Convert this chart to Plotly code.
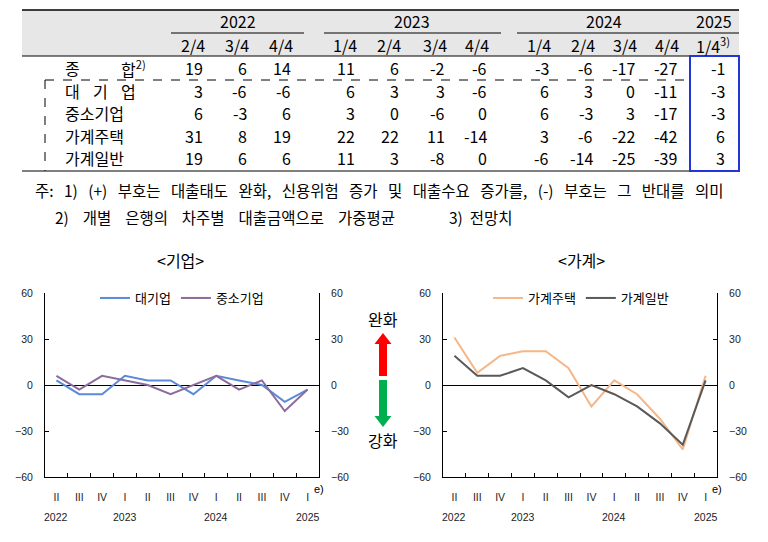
import plotly.graph_objects as go

# the page body keeps its default 8px margin, so the figure is drawn
# 8px in from the top-left corner of the 768x542 window
W, H = 768, 542
OFF = 8
FIG_W, FIG_H = W - OFF, H - OFF

# table data
year_labels = ["2022", "2023", "2024", "2025"]
quarter_labels = ["2/4", "3/4", "4/4", "1/4", "2/4", "3/4", "4/4",
                  "1/4", "2/4", "3/4", "4/4", "1/4<sup>3)</sup>"]
row_labels = ["종합", "대기업", "중소기업", "가계주택", "가계일반"]
total = [19, 6, 14, 11, 6, -2, -6, -3, -6, -17, -27, -1]
large_firms = [3, -6, -6, 6, 3, 3, -6, 6, 3, 0, -11, -3]
small_firms = [6, -3, 6, 3, 0, -6, 0, 6, -3, 3, -17, -3]
household_housing = [31, 8, 19, 22, 22, 11, -14, 3, -6, -22, -42, 6]
household_general = [19, 6, 6, 11, 3, -8, 0, -6, -14, -25, -39, 3]

# chart axis
periods = ["2022Q2", "2022Q3", "2022Q4", "2023Q1", "2023Q2", "2023Q3", "2023Q4",
           "2024Q1", "2024Q2", "2024Q3", "2024Q4", "2025Q1"]
roman_labels = ["II", "III", "IV", "I", "II", "III", "IV", "I", "II", "III", "IV", "I"]
chart_years = {"2022": "2022Q2", "2023": "2023Q1", "2024": "2024Q1", "2025": "2025Q1"}

notes = ["주: 1) (+) 부호는 대출태도 완화, 신용위험 증가 및 대출수요 증가를, (-) 부호는 그 반대를 의미",
         "2) 개별 은행의 차주별 대출금액으로 가중평균",
         "3) 전망치"]

KR = "Noto Sans CJK KR"
NARROW = "Liberation Sans Narrow, Arial Narrow, Liberation Sans"

def px(x):
    return (x - OFF) / FIG_W

def py(y):
    return 1 - (y - OFF) / FIG_H

def P(x, y):
    return f"{px(x):.5f},{py(y):.5f}"

annotations = []
shapes = []

def text(t, x, y, xanchor="center", size=16, color="black", family=KR, **kw):
    annotations.append(dict(text=t, x=px(x), y=py(y), xref="paper", yref="paper",
                            xanchor=xanchor, yanchor="middle", align=xanchor, showarrow=False,
                            font=dict(family=family, size=size, color=color), **kw))

def line(x0, y0, x1, y1, color="black", width=1, dash="solid"):
    shapes.append(dict(type="line", xref="paper", yref="paper",
                       x0=px(x0), y0=py(y0), x1=px(x1), y1=py(y1),
                       line=dict(color=color, width=width, dash=dash)))

def widen(s, n=1):
    # the source uses wide word gaps
    return s.replace(" ", "\u00a0" * n + " ")

# ---- table ----
shapes.append(dict(type="rect", xref="paper", yref="paper", x0=px(22), x1=px(739),
                   y0=py(56), y1=py(10), fillcolor="#E7E7E7", line=dict(width=0), layer="below"))
line(22, 10, 739, 10, width=1.6)
line(22, 56, 739, 56)
line(22, 171, 739, 171)

year_centers = [238, 412, 604, 714]
for lab, xc in zip(year_labels, year_centers):
    text(lab, xc, 21)
for x0, x1 in [(171, 304), (324, 501), (517, 739)]:
    line(x0, 33, x1, 33)

col_right = [205, 249, 293, 357, 401, 447, 489, 551, 595, 637, 679, 727]
for i, (q, xr) in enumerate(zip(quarter_labels, col_right)):
    text(q, xr + (5 if i == len(col_right) - 1 else 2), 45, xanchor="right")

row_y = [68, 91, 113, 136, 158]
rows = [total, large_firms, small_firms, household_housing, household_general]
for lab, yy, vals in zip(row_labels, row_y, rows):
    if len(lab) < 4:
        step = 56 / (len(lab) - 1)
        for k, ch in enumerate(lab):
            t = ch + ("<sup>2)</sup>" if lab == "종합" and k == len(lab) - 1 else "")
            text(t, 63 + k * step, yy, xanchor="left")
    else:
        text(lab, 63, yy, xanchor="left")
    for v, xr in zip(vals, col_right):
        text(str(v), xr, yy, xanchor="right")

# dashed box and forecast box
line(45, 80, 690, 80, dash="dash")
line(45, 80, 45, 171, dash="dash")
shapes.append(dict(type="rect", xref="paper", yref="paper", x0=px(690), x1=px(739),
                   y0=py(171), y1=py(56), line=dict(color="#2236D8", width=2)))

# notes
text(widen(notes[0], 2), 33, 190, xanchor="left", size=15.5)
text(widen(notes[1], 3), 53, 217, xanchor="left", size=15.5)
text(widen(notes[2]), 447, 217, xanchor="left", size=15.5)

# ---- charts ----
fig = go.Figure()

series_left = [("대기업", large_firms, "#5B8BD8"), ("중소기업", small_firms, "#8C6C9E")]
series_right = [("가계주택", household_housing, "#F5B688"), ("가계일반", household_general, "#595959")]

for name, vals, col in series_left:
    fig.add_trace(go.Scatter(x=periods, y=vals, name=name, mode="lines",
                             line=dict(color=col, width=2), xaxis="x", yaxis="y",
                             legend="legend"))
fig.add_trace(go.Scatter(x=periods, y=large_firms, mode="lines", line=dict(width=0),
                         showlegend=False, hoverinfo="skip", xaxis="x", yaxis="y2"))
for name, vals, col in series_right:
    fig.add_trace(go.Scatter(x=periods, y=vals, name=name, mode="lines",
                             line=dict(color=col, width=2), xaxis="x2", yaxis="y3",
                             legend="legend2"))
fig.add_trace(go.Scatter(x=periods, y=household_general, mode="lines", line=dict(width=0),
                         showlegend=False, hoverinfo="skip", xaxis="x2", yaxis="y4"))

tickfont = dict(family=NARROW, size=10.5, color="#222222")
yticks = [-60, -30, 0, 30, 60]

def xax(domain, anchor):
    return dict(domain=domain, anchor=anchor, type="category", categoryorder="array",
                categoryarray=periods, range=[-0.5, 11.5],
                tickmode="array", tickvals=periods, ticktext=roman_labels,
                tickson="boundaries", ticks="inside", ticklen=4, tickcolor="black",
                showline=True, linecolor="black", linewidth=1, showgrid=False,
                zeroline=False, tickfont=tickfont, ticklabelstandoff=10,
                automargin=False, fixedrange=True)

def yax(anchor, side="left", overlaying=None, zero=True):
    d = dict(anchor=anchor, side=side, range=[-60, 60], tickmode="array", tickvals=yticks,
             ticks="inside", ticklen=4, tickcolor="black", showline=True,
             linecolor="black", linewidth=1, showgrid=False, zeroline=zero,
             zerolinecolor="black", zerolinewidth=1, tickfont=tickfont,
             ticklabelstandoff=9, automargin=False, fixedrange=True)
    if overlaying:
        d["overlaying"] = overlaying
    else:
        d["domain"] = [py(477), py(293)]
    return d

left_dom = [px(45), px(319)]
right_dom = [px(443), px(717)]

fig.update_layout(
    width=FIG_W, height=FIG_H,
    margin=dict(l=0, r=0, t=0, b=0, pad=0, autoexpand=False),
    paper_bgcolor="white", plot_bgcolor="white",
    font=dict(family=KR, color="black"),
    xaxis=xax(left_dom, "y"),
    yaxis=yax("x"),
    yaxis2=yax("x", side="right", overlaying="y", zero=False),
    xaxis2=xax(right_dom, "y3"),
    yaxis3=yax("x2"),
    yaxis4=yax("x2", side="right", overlaying="y3", zero=False),
    legend=dict(orientation="h", x=px(182), y=py(298), xanchor="center", yanchor="middle",
                bgcolor="rgba(0,0,0,0)", font=dict(family=KR, size=13), itemclick=False),
    legend2=dict(orientation="h", x=px(581), y=py(298), xanchor="center", yanchor="middle",
                 bgcolor="rgba(0,0,0,0)", font=dict(family=KR, size=13), itemclick=False),
    showlegend=True,
)

# chart titles, years, forecast marks
text("&lt;기업&gt;", 180, 260, size=16)
text("&lt;가계&gt;", 581, 260, size=16)
for yr, per in chart_years.items():
    for xa in ["x", "x2"]:
        annotations.append(dict(text=yr, x=per, xref=xa, y=py(517), yref="paper",
                                showarrow=False, xanchor="center", yanchor="middle",
                                font=tickfont))
text("e)", 319, 489, xanchor="center", size=11, family=NARROW)
text("e)", 717, 489, xanchor="center", size=11, family=NARROW)

# easing / tightening arrows
text("완화", 383, 319, size=16)
text("강화", 383, 440, size=16)
red = ("M" + P(379, 376) + " L" + P(379, 344) + " L" + P(374.5, 344) + " L" + P(383, 333)
       + " L" + P(391.5, 344) + " L" + P(387, 344) + " L" + P(387, 376) + " Z")
green = ("M" + P(379, 380) + " L" + P(379, 416) + " L" + P(374.5, 416) + " L" + P(383, 427)
         + " L" + P(391.5, 416) + " L" + P(387, 416) + " L" + P(387, 380) + " Z")
shapes.append(dict(type="path", xref="paper", yref="paper", path=red,
                   fillcolor="#FF0000", line=dict(width=0)))
shapes.append(dict(type="path", xref="paper", yref="paper", path=green,
                   fillcolor="#00B050", line=dict(width=0)))

fig.update_layout(annotations=annotations, shapes=shapes)
fig.write_html("out.html")
